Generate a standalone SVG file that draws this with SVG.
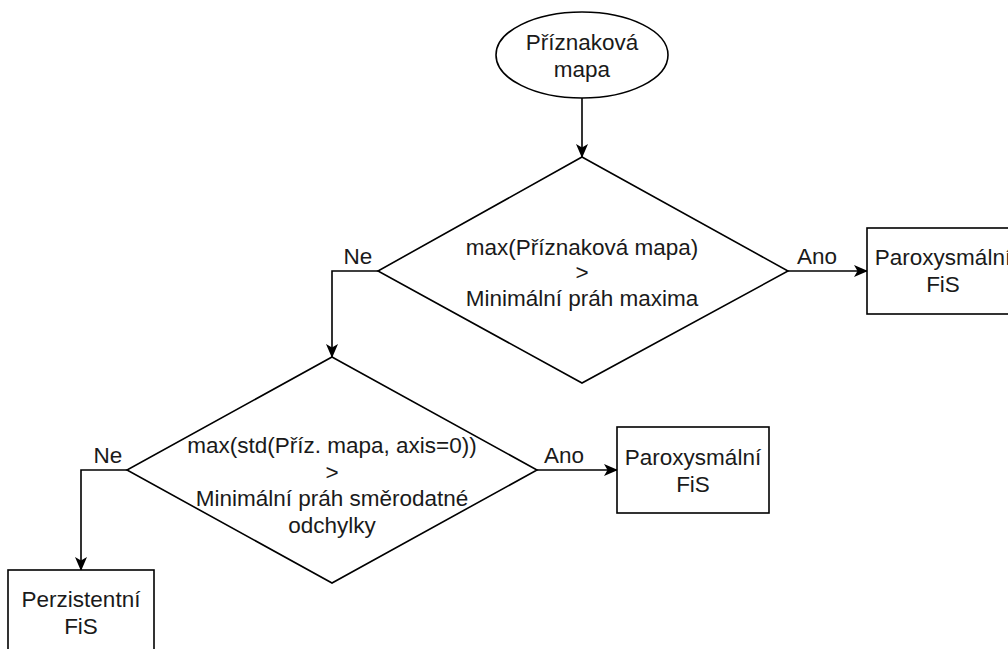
<svg xmlns="http://www.w3.org/2000/svg" width="1008" height="649" viewBox="0 0 1008 649">
<defs>
<marker id="arr" markerUnits="userSpaceOnUse" markerWidth="14" markerHeight="12" viewBox="0 0 14 12" refX="13" refY="6" orient="auto">
<path d="M0,0 L14,6 L0,12 L3.5,6 Z" fill="#000"/>
</marker>
<style>
.s{fill:#fff;stroke:#000;stroke-width:1.6}
.e{fill:none;stroke:#000;stroke-width:1.6;marker-end:url(#arr)}
text{font-family:"Liberation Sans",Arial,sans-serif;font-size:22.5px;fill:#1a1a1a;text-anchor:middle}
</style>
</defs>
<rect width="1008" height="649" fill="#fff"/>
<g id="connectors">
<path class="e" d="M582,98 L582,157"/>
<path class="e" d="M378,271 L332,271 L332,357"/>
<path class="e" d="M788,271 L867,271"/>
<path class="e" d="M127,470 L81,470 L81,570"/>
<path class="e" d="M537,470 L617,470"/>
<text x="358" y="264">Ne</text>
<text x="817" y="264">Ano</text>
<text x="108" y="463">Ne</text>
<text x="564" y="463">Ano</text>
</g>
<g id="start">
<ellipse class="s" cx="582" cy="55" rx="86" ry="43"/>
<text x="582" y="50">Příznaková</text>
<text x="582" y="77">mapa</text>
</g>
<g id="decision1">
<polygon class="s" points="582,157 788,271 582,383 378,271"/>
<text x="582" y="255">max(Příznaková mapa)</text>
<text x="582" y="280">&gt;</text>
<text x="582" y="306">Minimální práh maxima</text>
</g>
<g id="result1">
<rect class="s" x="867" y="228" width="152" height="86"/>
<text x="943" y="265">Paroxysmální</text>
<text x="943" y="292">FiS</text>
</g>
<g id="decision2">
<polygon class="s" points="332,357 537,470 332,583 127,470"/>
<text x="332" y="453">max(std(Příz. mapa, axis=0))</text>
<text x="332" y="479.5">&gt;</text>
<text x="332" y="506">Minimální práh směrodatné</text>
<text x="332" y="532.5">odchylky</text>
</g>
<g id="result2">
<rect class="s" x="617" y="427" width="152" height="86"/>
<text x="693" y="465">Paroxysmální</text>
<text x="693" y="492">FiS</text>
</g>
<g id="result3">
<rect class="s" x="8" y="570" width="146" height="86"/>
<text x="81" y="607">Perzistentní</text>
<text x="81" y="634">FiS</text>
</g>
</svg>
